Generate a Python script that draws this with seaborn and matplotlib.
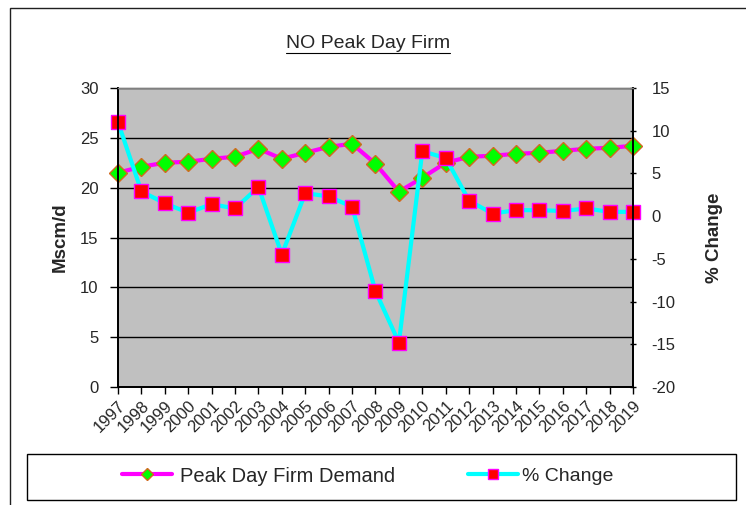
import numpy as np
import pandas as pd
import seaborn as sns
import matplotlib.pyplot as plt
from matplotlib.patches import Rectangle
from matplotlib.lines import Line2D

years = list(range(1997, 2020))
peak_demand = [21.5, 22.1, 22.5, 22.6, 22.9, 23.1, 23.9, 22.9, 23.5, 24.1, 24.4,
               22.4, 19.6, 21.0, 22.5, 23.1, 23.2, 23.4, 23.5, 23.7, 23.9, 24.0, 24.2]
pct_change = [11.0, 2.9, 1.5, 0.4, 1.4, 0.9, 3.4, -4.5, 2.7, 2.3, 1.1,
              -8.8, -14.8, 7.6, 6.8, 1.8, 0.3, 0.7, 0.7, 0.6, 0.9, 0.5, 0.5]

df = pd.DataFrame({'Year': years, 'Peak Day Firm Demand': peak_demand, '% Change': pct_change})

sns.set_style("white")
plt.rcParams['font.family'] = ['Liberation Sans', 'DejaVu Sans']
plt.rcParams['axes.unicode_minus'] = False

W, H = 746, 505
fig = plt.figure(figsize=(W / 100, H / 100), dpi=100)
ax = fig.add_axes([118 / W, 1 - 387 / H, (633 - 118) / W, (387 - 88) / H])
ax.set_facecolor('#C0C0C0')
ax2 = ax.twinx()

sns.lineplot(data=df, x='Year', y='Peak Day Firm Demand', ax=ax, color='#FF00FF', lw=3,
             marker='D', markersize=9, markerfacecolor='#00FF00', markeredgecolor='#D2691E',
             markeredgewidth=1, label='Peak Day Firm Demand', legend=False, clip_on=False)
sns.lineplot(data=df, x='Year', y='% Change', ax=ax2, color='#00FFFF', lw=3,
             marker='s', markersize=10, markerfacecolor='#FF0000', markeredgecolor='#FF00FF',
             markeredgewidth=1, label='% Change', legend=False, clip_on=False)

ax.set_xlim(1997, 2019)
ax.set_ylim(0, 30)
ax2.set_ylim(-20, 15)
ax.set_yticks(range(0, 31, 5))
ax2.set_yticks(range(-20, 16, 5))
ax.set_xticks(years)
ax.set_xticklabels([str(y) for y in years], rotation=45, ha='right', rotation_mode='anchor',
                   fontsize=12)
ax.yaxis.grid(True, color='black', lw=1)
ax.set_axisbelow(True)

ax.tick_params(axis='y', labelsize=12, length=6, width=1, color='black', pad=8, left=True)
ax.tick_params(axis='x', length=5, width=1, color='black', pad=3, bottom=True)
ax2.tick_params(axis='y', labelsize=12, length=5, width=1, color='black', pad=11,
                direction='inout', right=True)

ax.set_xlabel('')
ax.set_ylabel('Mscm/d', fontsize=13.5, fontweight='bold', labelpad=8)
ax2.set_ylabel('% Change', fontsize=13.5, fontweight='bold', labelpad=22)

for a in (ax, ax2):
    for s in ('left', 'right', 'bottom'):
        a.spines[s].set_color('black')
        a.spines[s].set_linewidth(1.3)
    a.spines['top'].set_color('#808080')
    a.spines['top'].set_linewidth(1)

# title with underline
t = fig.text(368 / W, 1 - 44 / H, 'NO Peak Day Firm', ha='center', va='center', fontsize=14)
fig.canvas.draw()
bb = t.get_window_extent(fig.canvas.get_renderer())
fig.add_artist(Line2D([bb.x0 / W, bb.x1 / W], [(bb.y0 - 0.5) / H, (bb.y0 - 0.5) / H],
                      transform=fig.transFigure, color='black', lw=0.8))

# legend
l1 = ax.get_lines()[0]
l2 = ax2.get_lines()[0]
fig.add_artist(Rectangle((27 / W, 5 / H), 709 / W, 46 / H, transform=fig.transFigure,
                         fill=False, ec='black', lw=1))
fig.legend(handles=[l1], labels=['Peak Day Firm Demand'], loc='center left',
           bbox_to_anchor=(114 / W, 1 - 476 / H), frameon=False, fontsize=14.5,
           handlelength=2.5, handletextpad=0.4, markerscale=0.7, borderaxespad=0)
fig.legend(handles=[l2], labels=['% Change'], loc='center left',
           bbox_to_anchor=(460 / W, 1 - 476 / H), frameon=False, fontsize=14,
           handlelength=2.6, handletextpad=0.2, markerscale=0.7, borderaxespad=0)

# outer chart frame
fig.add_artist(Rectangle((10 / W, -0.1), 2, 0.1 + 1 - 8 / H, transform=fig.transFigure,
                         fill=False, ec='#202020', lw=1))

fig.savefig('out.png', dpi=100)
